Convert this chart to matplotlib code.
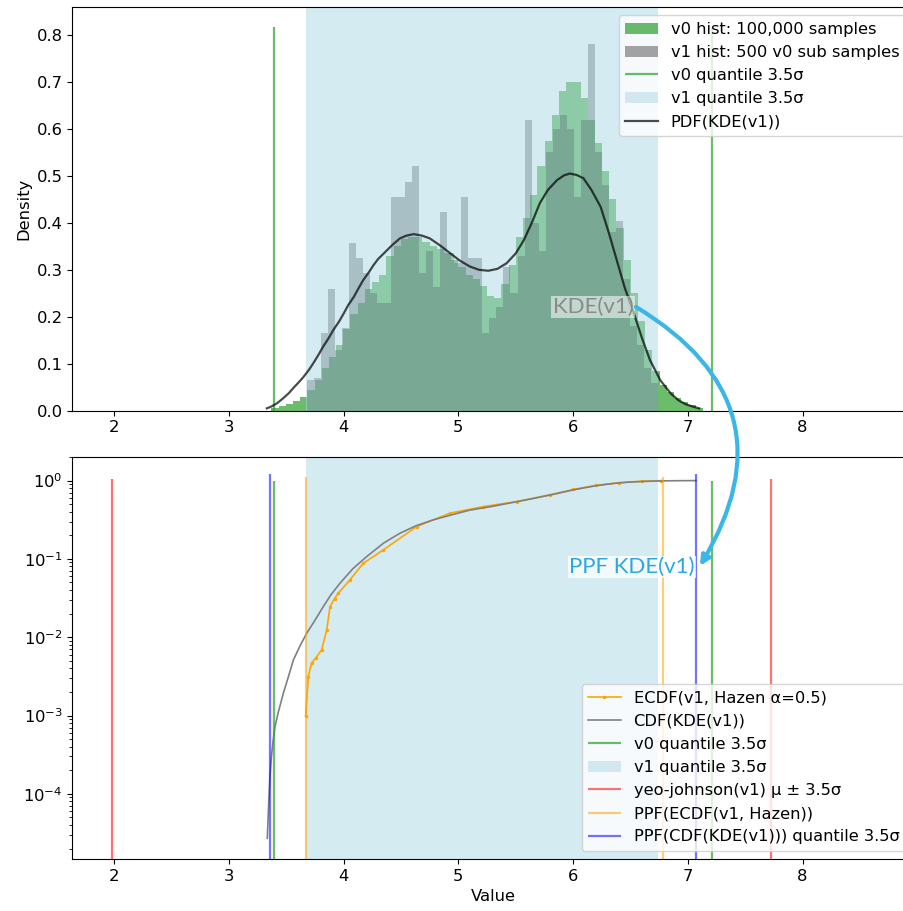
import numpy as np
import matplotlib
matplotlib.use('Agg')
import matplotlib.pyplot as plt
from matplotlib.patches import ConnectionPatch

plt.rcParams['font.size'] = 11.8

# --- values ---
# v0 histogram: 100,000 samples, density per bin
V0_RANGE = (3.37, 7.13)
v0_density = [0.005, 0.010, 0.015, 0.020, 0.030, 0.045, 0.065, 0.090, 0.115, 0.140,
              0.175, 0.205, 0.230, 0.260, 0.275, 0.290, 0.330, 0.350, 0.365, 0.370,
              0.370, 0.360, 0.350, 0.345, 0.335, 0.320, 0.305, 0.290, 0.280, 0.265,
              0.245, 0.240, 0.270, 0.310, 0.370, 0.410, 0.460, 0.520, 0.575, 0.630,
              0.680, 0.700, 0.700, 0.665, 0.620, 0.570, 0.510, 0.450, 0.390, 0.320,
              0.250, 0.190, 0.130, 0.085, 0.055, 0.040, 0.028, 0.018, 0.012, 0.006]

# v1 histogram: 500 sub samples of v0
V1_RANGE = (3.677, 6.741)
v1_density = [0.065, 0.070, 0.165, 0.260, 0.130, 0.176, 0.357, 0.325, 0.293, 0.250,
              0.230, 0.230, 0.456, 0.456, 0.488, 0.520, 0.293, 0.340, 0.264, 0.424,
              0.335, 0.315, 0.456, 0.325, 0.325, 0.165, 0.197, 0.220, 0.307, 0.250,
              0.330, 0.620, 0.400, 0.340, 0.550, 0.600, 0.630, 0.600, 0.456, 0.620,
              0.780, 0.550, 0.480, 0.380, 0.405, 0.280, 0.180, 0.140, 0.090, 0.060]

# KDE(v1) pdf
kde_x = [3.33, 3.37, 3.42, 3.47, 3.52, 3.56, 3.61, 3.65, 3.70, 3.74, 3.78, 3.82, 3.87,
         3.91, 3.96, 4.00, 4.04, 4.09, 4.13, 4.17, 4.22, 4.26, 4.30, 4.35, 4.42, 4.49,
         4.55, 4.61, 4.68, 4.75, 4.84, 4.93, 5.01, 5.10, 5.18, 5.26, 5.34, 5.42, 5.50,
         5.57, 5.64, 5.71, 5.78, 5.86, 5.92, 5.97, 6.03, 6.09, 6.16, 6.24, 6.31, 6.38,
         6.45, 6.53, 6.60, 6.67, 6.76, 6.85, 6.92, 6.98, 7.04, 7.10]
kde_pdf = [0.005, 0.009, 0.016, 0.026, 0.037, 0.048, 0.061, 0.072, 0.088, 0.103, 0.119,
           0.136, 0.155, 0.172, 0.190, 0.207, 0.225, 0.243, 0.261, 0.278, 0.295, 0.310,
           0.323, 0.335, 0.352, 0.367, 0.373, 0.376, 0.373, 0.367, 0.352, 0.335, 0.320,
           0.307, 0.300, 0.298, 0.302, 0.314, 0.335, 0.363, 0.400, 0.442, 0.470, 0.491,
           0.501, 0.505, 0.502, 0.495, 0.470, 0.434, 0.380, 0.321, 0.262, 0.207, 0.155,
           0.108, 0.065, 0.037, 0.022, 0.014, 0.009, 0.005]

# ECDF(v1, Hazen)
ecdf_x = [3.669, 3.691, 3.720, 3.760, 3.808, 3.852, 3.881, 3.920, 3.953, 4.055, 4.171,
          4.345, 4.636, 4.927, 5.217, 5.508, 5.800, 6.000, 6.200, 6.400, 6.600, 6.770]
ecdf_y = [0.0010, 0.0031, 0.0047, 0.0055, 0.0069, 0.0124, 0.0246, 0.031, 0.0365, 0.054,
          0.088, 0.130, 0.259, 0.384, 0.466, 0.540, 0.660, 0.770, 0.870, 0.940, 0.980, 0.999]

# CDF(KDE(v1))
cdf_x = [3.334, 3.340, 3.347, 3.357, 3.370, 3.385, 3.401, 3.430, 3.474, 3.520, 3.561,
         3.620, 3.677, 3.750, 3.822, 3.890, 3.968, 4.080, 4.200, 4.350, 4.491, 4.630,
         4.780, 4.940, 5.100, 5.300, 5.500, 5.650, 5.800, 5.900, 6.000, 6.100, 6.200,
         6.300, 6.400, 6.500, 6.600, 6.700, 6.800, 6.900, 7.070]
cdf_y = [2.7e-5, 4.5e-5, 8.0e-5, 1.66e-4, 3.0e-4, 4.8e-4, 7.2e-4, 1.1e-3, 1.93e-3, 3.2e-3,
         5.1e-3, 7.8e-3, 0.0112, 0.0165, 0.0246, 0.035, 0.049, 0.075, 0.107, 0.160, 0.213,
         0.265, 0.315, 0.365, 0.420, 0.470, 0.535, 0.590, 0.655, 0.705, 0.760, 0.810,
         0.860, 0.900, 0.935, 0.960, 0.975, 0.986, 0.993, 0.997, 1.0]

# vertical markers
v0_quantile = [3.395, 7.207]
v1_quantile = [3.675, 6.742]
yeo_johnson = [1.977, 7.727]
ppf_ecdf = [3.669, 6.780]
ppf_cdf_kde = [3.360, 7.069]

# --- figure ---
fig = plt.figure(figsize=(9.04, 9.11), dpi=100)
W, H = 904.0, 911.0
def axes_px(left, top, right, bottom):
    return [left / W, 1 - bottom / H, (right - left) / W, (bottom - top) / H]

ax1 = fig.add_axes(axes_px(72.3, 7.3, 914, 410.7))
ax2 = fig.add_axes(axes_px(72.3, 456.7, 914, 859))
XLIM = (1.634, 8.972)

# top panel: histograms + KDE
h0 = ax1.stairs(v0_density, np.linspace(*V0_RANGE, len(v0_density) + 1), fill=True,
                color='tab:green', alpha=0.7, lw=0, label='v0 hist: 100,000 samples')
h1 = ax1.stairs(v1_density, np.linspace(*V1_RANGE, len(v1_density) + 1), fill=True,
                color='black', alpha=0.35, lw=0, label='v1 hist: 500 v0 sub samples')
q0 = ax1.vlines(v0_quantile, 0, 0.817, color='tab:green', alpha=0.7, lw=1.6,
                label='v0 quantile 3.5σ')
sp = ax1.axvspan(*v1_quantile, color='lightblue', alpha=0.5, lw=0, label='v1 quantile 3.5σ')
pdf, = ax1.plot(kde_x, kde_pdf, color='black', alpha=0.7, lw=1.6, label='PDF(KDE(v1))')
ax1.set_xlim(*XLIM)
ax1.set_ylim(0, 0.859)
ax1.set_ylabel('Density')
ax1.legend(handles=[h0, h1, q0, sp, pdf], loc='upper right', fontsize=11.7)

# bottom panel: cumulative curves on log scale
ec, = ax2.plot(ecdf_x, ecdf_y, color='orange', marker='.', ms=3, lw=1.2,
               label='ECDF(v1, Hazen α=0.5)')
cd, = ax2.plot(cdf_x, cdf_y, color='gray', lw=1.2, label='CDF(KDE(v1))')
q0b = ax2.vlines(v0_quantile, 1e-6, 1.0, color='tab:green', alpha=0.7, lw=1.6,
                 label='v0 quantile 3.5σ')
sp2 = ax2.axvspan(*v1_quantile, color='lightblue', alpha=0.5, lw=0, label='v1 quantile 3.5σ')
yj = ax2.vlines(yeo_johnson, 1e-6, 1.06, color='red', alpha=0.55, lw=1.6,
                label='yeo-johnson(v1) μ ± 3.5σ')
pe = ax2.vlines(ppf_ecdf, 1e-6, 1.1, color='orange', alpha=0.55, lw=1.6,
                label='PPF(ECDF(v1, Hazen))')
pk = ax2.vlines(ppf_cdf_kde, 1e-6, 1.2, color='blue', alpha=0.55, lw=1.6,
                label='PPF(CDF(KDE(v1))) quantile 3.5σ')
ax2.set_yscale('log')
ax2.set_xlim(*XLIM)
ax2.set_ylim(1.47e-5, 2.02)
ax2.set_xlabel('Value')
ax2.legend(handles=[ec, cd, q0b, sp2, yj, pe, pk], loc='lower right', fontsize=11.7)

# callouts
ax1.text(6.173, 0.221, 'KDE(v1)', color='#8a8a8a', fontsize=16, family='Lato',
         ha='center', va='center', zorder=5,
         bbox=dict(facecolor='white', edgecolor='none', alpha=0.55, pad=1))
ax2.text(6.513, 0.079, 'PPF KDE(v1)', color='#29a9e1', fontsize=16, family='Lato',
         ha='center', va='center', zorder=5,
         bbox=dict(facecolor='white', edgecolor='none', alpha=0.75, pad=1))
arrow = ConnectionPatch(xyA=(6.548, 0.221), coordsA='data', axesA=ax1,
                        xyB=(7.106, 0.0815), coordsB='data', axesB=ax2,
                        arrowstyle='-|>', mutation_scale=14, lw=3, color='#3cb6e6',
                        connectionstyle='arc3,rad=-0.5', zorder=10)
fig.add_artist(arrow)

plt.savefig('out.png', dpi=100)
plt.close()
